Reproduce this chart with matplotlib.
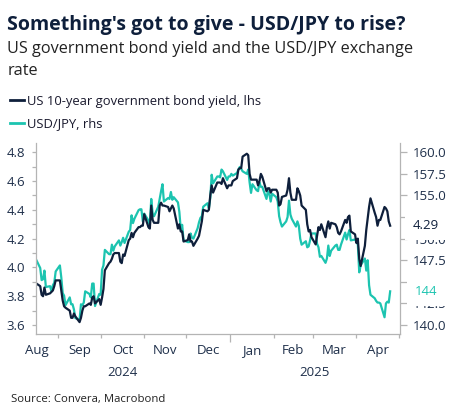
import matplotlib
matplotlib.use('Agg')
import matplotlib.pyplot as plt
import matplotlib.dates as mdates
import matplotlib.transforms as mtransforms
from matplotlib.lines import Line2D
from matplotlib.ticker import FixedLocator, FixedFormatter, FormatStrFormatter
import numpy as np
import pandas as pd

plt.rcParams['font.family'] = ['Open Sans', 'DejaVu Sans']

# ---------------- data ----------------
start_date = '2024-08-16'
end_date = '2025-04-25'
dates = pd.bdate_range(start_date, end_date)

us10y = [
    # Aug 2024
    3.89, 3.87, 3.81, 3.80, 3.86, 3.81, 3.82, 3.83, 3.84, 3.87, 3.91,
    # Sep
    3.91, 3.84, 3.77, 3.73, 3.72, 3.70, 3.65, 3.65, 3.68, 3.66, 3.62, 3.65, 3.70, 3.73, 3.73,
    3.75, 3.74, 3.79, 3.80, 3.75, 3.78,
    # Oct
    3.74, 3.79, 3.85, 3.98, 4.03, 4.04, 4.06, 4.09, 4.10, 4.10, 4.04, 4.03, 4.09, 4.08, 4.19,
    4.20, 4.24, 4.21, 4.24, 4.28, 4.28, 4.29, 4.29,
    # Nov
    4.37, 4.28, 4.27, 4.43, 4.33, 4.31, 4.31, 4.43, 4.45, 4.43, 4.43, 4.42, 4.39, 4.41, 4.43,
    4.41, 4.27, 4.30, 4.25, 4.25, 4.18,
    # Dec
    4.19, 4.23, 4.18, 4.18, 4.15, 4.20, 4.22, 4.27, 4.32, 4.40, 4.39, 4.40, 4.50, 4.57, 4.52,
    4.59, 4.59, 4.59, 4.58, 4.62, 4.55, 4.57,
    # Jan 2025
    4.57, 4.57, 4.60, 4.62, 4.68, 4.69, 4.69, 4.77, 4.79, 4.78, 4.65, 4.61, 4.61, 4.61, 4.57,
    4.60, 4.65, 4.63, 4.53, 4.55, 4.55, 4.52, 4.54,
    # Feb
    4.54, 4.52, 4.43, 4.44, 4.49, 4.50, 4.54, 4.62, 4.52, 4.47, 4.47, 4.55, 4.53, 4.50, 4.43,
    4.40, 4.30, 4.25, 4.26, 4.21,
    # Mar
    4.16, 4.22, 4.28, 4.26, 4.30, 4.21, 4.28, 4.32, 4.27, 4.31, 4.30, 4.28, 4.24, 4.23, 4.25,
    4.33, 4.31, 4.35, 4.36, 4.25, 4.23,
    # Apr
    4.17, 4.20, 4.06, 4.01, 4.15, 4.26, 4.34, 4.42, 4.48, 4.38, 4.35, 4.29, 4.33, 4.33, 4.42,
    4.41, 4.39, 4.32, 4.29,
]

usdjpy = [
    # Aug 2024
    147.6, 146.6, 145.2, 145.3, 146.3, 144.4, 144.5, 143.9, 144.6, 144.9, 146.2,
    # Sep
    146.9, 145.5, 143.7, 143.4, 142.3, 143.2, 142.4, 142.4, 141.8, 140.8, 140.6, 142.4, 142.3,
    142.6, 143.9, 143.6, 143.2, 144.8, 144.8, 142.2, 143.6,
    # Oct
    143.5, 146.4, 146.9, 148.7, 148.2, 148.2, 149.3, 148.6, 149.1, 149.8, 149.2, 149.6, 150.1,
    149.5, 150.8, 151.0, 152.7, 151.8, 152.3, 153.3, 153.4, 153.4, 152.0,
    # Nov
    152.9, 152.1, 151.6, 154.6, 152.9, 152.6, 153.7, 154.6, 155.5, 156.3, 154.3, 154.7, 154.6,
    155.4, 154.5, 154.8, 154.2, 153.1, 151.1, 151.6, 149.8,
    # Dec
    149.6, 149.6, 150.6, 150.1, 150.0, 151.2, 151.9, 152.4, 152.6, 153.7, 154.1, 153.5, 154.7,
    157.4, 156.4, 157.2, 157.2, 157.1, 158.0, 157.8, 156.8, 157.2,
    # Jan 2025
    157.2, 157.5, 157.3, 157.6, 158.0, 158.3, 158.1, 157.8, 157.5, 158.0, 156.5, 155.3, 156.3,
    155.6, 155.5, 156.5, 156.0, 156.0, 154.6, 155.5, 155.2, 154.3, 155.2,
    # Feb
    154.8, 154.3, 152.6, 151.9, 151.4, 152.0, 152.5, 154.4, 152.8, 152.3, 151.4, 152.0, 151.5,
    150.0, 149.3, 149.7, 149.0, 149.1, 149.8, 150.6,
    # Mar
    150.6, 149.4, 149.0, 147.9, 148.0, 147.2, 147.7, 149.2, 148.0, 148.6, 149.2, 149.3, 148.7,
    148.7, 149.3, 150.7, 149.9, 150.5, 151.0, 149.8, 149.9,
    # Apr
    149.6, 149.3, 146.1, 146.9, 147.7, 146.3, 147.5, 144.6, 143.5, 143.1, 142.8, 142.6, 142.6,
    142.5, 140.9, 142.5, 142.7, 142.6, 143.9,
]

month_labels = ['Aug', 'Sep', 'Oct', 'Nov', 'Dec', 'Jan', 'Feb', 'Mar', 'Apr']
year_labels = ['2024', '2025']
left_ticks = [3.6, 3.8, 4.0, 4.2, 4.4, 4.6, 4.8]
right_ticks = [140.0, 142.5, 145.0, 147.5, 150.0, 152.5, 155.0, 157.5, 160.0]

title = "Something's got to give - USD/JPY to rise?"
subtitle_lines = ["US government bond yield and the USD/JPY exchange", "rate"]
legend_labels = ['US 10-year government bond yield, lhs', 'USD/JPY, rhs']
source = 'Source: Convera, Macrobond'

# ---------------- style ----------------
NAVY = '#0e1f3b'
TEAL = '#1cc4b0'
TXT = '#1e2f4a'
SPINE = '#b4b4b4'
FS = 9.5

W, H = 453, 417
fig = plt.figure(figsize=(W / 100, H / 100), dpi=100)
ax = fig.add_axes([36 / W, 83 / H, 364 / W, 191.3 / H])
ax2 = ax.twinx()
ax.set_zorder(ax2.get_zorder() + 1)
ax.patch.set_visible(False)

ax.plot(dates, us10y, color=NAVY, lw=1.6, solid_joinstyle='round')
ax2.plot(dates, usdjpy, color=TEAL, lw=1.6, solid_joinstyle='round')

ax.set_ylim(3.5375, 4.8667)
ax2.set_ylim(138.96, 161.11)
x0 = pd.Timestamp('2024-08-16')
x1 = pd.Timestamp('2025-05-02')
ax.set_xlim(x0, x1)

for a in (ax, ax2):
    a.spines['top'].set_visible(False)
    for s in ('left', 'right', 'bottom'):
        a.spines[s].set_color(SPINE)
        a.spines[s].set_linewidth(0.9)
ax.spines['right'].set_visible(False)
ax2.spines['left'].set_visible(False)
ax2.spines['bottom'].set_visible(False)

# left axis
ax.set_yticks(left_ticks)
ax.set_yticks(np.arange(3.7, 4.85, 0.2), minor=True)
ax.yaxis.set_major_formatter(FormatStrFormatter('%.1f'))
ax.tick_params(axis='y', which='both', length=3, width=0.9, color=SPINE,
               labelsize=FS, labelcolor=TXT, pad=5)

# right axis
ax2.set_yticks(right_ticks)
ax2.yaxis.set_major_formatter(FormatStrFormatter('%.1f'))
ax2.tick_params(axis='y', which='major', length=5, width=0.9, color=SPINE,
                labelsize=FS, labelcolor=TXT, pad=4)

# x axis: month boundaries as ticks, labels in the middle of each month
month_starts = pd.date_range('2024-08-01', '2025-05-01', freq='MS')
tick_dates = [d for d in month_starts if d > x0]
ax.set_xticks(tick_dates)
ax.set_xticklabels([])
mids = [month_starts[i] + (month_starts[i + 1] - month_starts[i]) / 2
        for i in range(len(month_starts) - 1)]
ax.xaxis.set_minor_locator(FixedLocator(mdates.date2num(mids)))
ax.xaxis.set_minor_formatter(FixedFormatter(month_labels))
ax.tick_params(axis='x', which='major', length=3, width=0.9, color=SPINE)
ax.tick_params(axis='x', which='minor', length=0, labelsize=FS,
               labelcolor=TXT, pad=7.5)
for t, d in zip(ax.xaxis.get_major_ticks(), tick_dates):
    if d.month == 1:
        t.tick1line.set_markersize(6)

trans = mtransforms.blended_transform_factory(ax.transData, ax.transAxes)
y2024_mid = pd.Timestamp('2024-08-01') + (pd.Timestamp('2025-01-01') - pd.Timestamp('2024-08-01')) / 2
y2025_mid = pd.Timestamp('2025-01-01') + (x1 - pd.Timestamp('2025-01-01')) / 2
for lbl, pos in zip(year_labels, [y2024_mid, y2025_mid]):
    ax.text(pos, -0.20, lbl, transform=trans, ha='center', va='center',
            fontsize=FS, color=TXT, clip_on=False)

# last-value labels on right axis
ax2.annotate(f'{us10y[-1]:.2f}', xy=(1, us10y[-1]), xycoords=ax.get_yaxis_transform(),
             xytext=(18.5, 0), textcoords='offset points', ha='center', va='center',
             fontsize=FS, color=NAVY, zorder=20, annotation_clip=False,
             bbox=dict(boxstyle='square,pad=0.6', fc='white', ec='none'))
ax2.annotate(f'{usdjpy[-1]:.0f}', xy=(1, usdjpy[-1]), xycoords=ax2.get_yaxis_transform(),
             xytext=(18.5, 0), textcoords='offset points', ha='center', va='center',
             fontsize=FS, color=TEAL, zorder=20, annotation_clip=False,
             bbox=dict(boxstyle='square,pad=0.6', fc='white', ec='none'))

# titles
fig.text(7.3 / W, 1 - 30 / H, title, fontsize=14, fontweight='bold', color=NAVY,
         va='baseline', ha='left')
for line, yb in zip(subtitle_lines, [53.3, 75]):
    fig.text(7.3 / W, 1 - yb / H, line, fontsize=11.7, color='#222222',
             va='baseline', ha='left')
# legend
for lbl, col, yb in zip(legend_labels, [NAVY, TEAL], [105, 127.5]):
    yc = 1 - (yb - 5) / H
    fig.add_artist(Line2D([9.5 / W, 24 / W], [yc, yc], color=col, lw=2,
                          transform=fig.transFigure))
    fig.text(26.7 / W, 1 - yb / H, lbl, fontsize=9.4, color='#1a1a2e',
             va='baseline', ha='left')

fig.text(10.7 / W, 1 - 401.7 / H, source, fontsize=8.2, color='#222222',
         va='baseline', ha='left')

fig.savefig('out.png', dpi=100)
